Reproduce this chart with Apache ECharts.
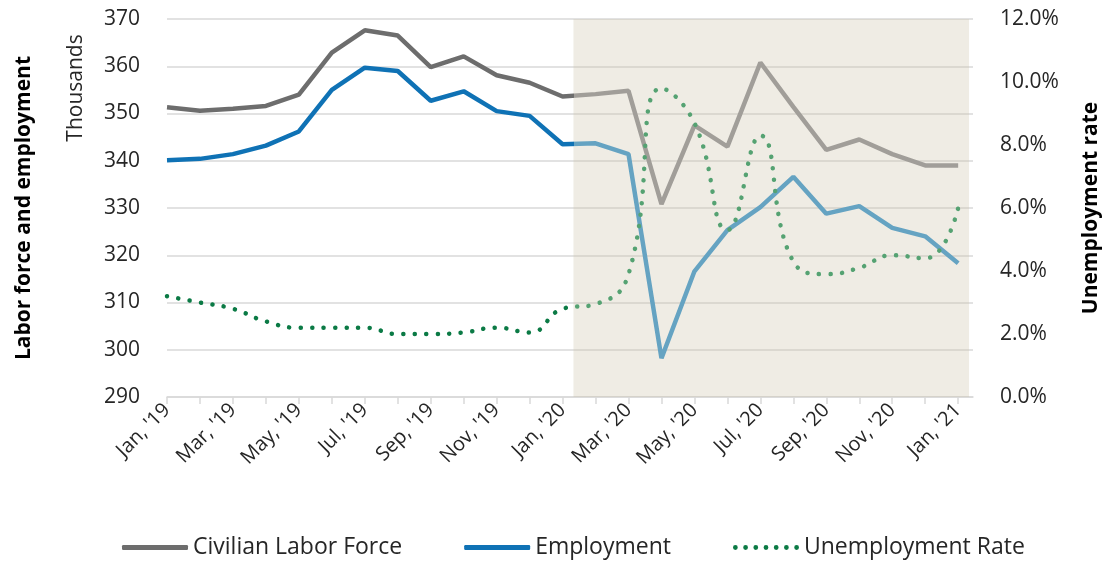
<!DOCTYPE html>
<html>
<head>
<meta charset="utf-8">
<script src="https://cdn.jsdelivr.net/npm/echarts@6/dist/echarts.min.js"></script>
<style>
  html, body { margin: 0; padding: 0; background: #fff; }
  #main { width: 1105px; height: 563px; }
</style>
</head>
<body>
<div id="main"></div>
<script>
// months Jan '19 .. Jan '21
var months = ["Jan, '19","Feb, '19","Mar, '19","Apr, '19","May, '19","Jun, '19","Jul, '19","Aug, '19","Sep, '19","Oct, '19","Nov, '19","Dec, '19",
              "Jan, '20","Feb, '20","Mar, '20","Apr, '20","May, '20","Jun, '20","Jul, '20","Aug, '20","Sep, '20","Oct, '20","Nov, '20","Dec, '20","Jan, '21"];
var laborForce = [351.3,350.6,351.0,351.6,354.0,362.9,367.6,366.5,359.8,362.1,358.1,356.5,
                  353.6,354.1,354.8,330.8,347.5,343.0,360.8,351.4,342.3,344.5,341.4,339.0,339.0];
var employment = [340.1,340.4,341.4,343.2,346.2,355.0,359.7,359.0,352.7,354.7,350.5,349.5,
                  343.5,343.7,341.4,298.2,316.6,325.3,330.2,336.6,328.8,330.4,325.8,324.0,318.3];
var unempRate = [3.2,3.0,2.8,2.4,2.2,2.2,2.2,2.0,2.0,2.05,2.2,2.05,
                 2.8,2.95,3.9,9.8,8.7,5.3,8.3,4.3,3.9,4.1,4.5,4.4,6.0];
var leftTicks = [290,300,310,320,330,340,350,360,370];
var rightTicks = [0,2,4,6,8,10,12];

// shaded period starts part way into Jan '20
var shadeStart = 12.33, shadeEnd = 24.33;

var myChart = echarts.init(document.getElementById('main'));

function pts(arr){
  var out = [];
  for (var i = 0; i < arr.length; i++) out.push([i, arr[i]]);
  return out;
}
// colour switch where the shading starts (line bbox runs from month 0 to month 24)
function split(dark, light){
  var f = shadeStart / (months.length - 1);
  return new echarts.graphic.LinearGradient(0, 0, 1, 0, [
    { offset: 0, color: dark }, { offset: f, color: dark },
    { offset: f, color: light }, { offset: 1, color: light }
  ]);
}
var tickIdx = [], labelIdx = [];
for (var i = 0; i < months.length; i++){
  tickIdx.push(i);
  if (i % 2 === 0) labelIdx.push(i);
}

var font = '"Open Sans", Lato, sans-serif';
var gridColor = '#d9d9d9';
var txt = '#262626';

// dotted legend icon
var dots = 'path://';
for (var k = 0; k < 7; k++){
  var cx = 2.5 + k * 10.7;
  dots += 'M' + (cx - 2.5) + ' 2.5a2.5 2.5 0 1 0 5 0a2.5 2.5 0 1 0 -5 0Z';
}

var opt = {
  animation: false,
  textStyle: { fontFamily: font },
  grid: { left: 167, right: 132, top: 19, bottom: 166, outerBoundsMode: 'none' },
  legend: {
    top: 531,
    left: 117,
    itemWidth: 66,
    itemHeight: 5,
    itemGap: 62,
    textStyle: { fontSize: 23, color: txt, fontFamily: font },
    data: [
      { name: 'Civilian Labor Force', icon: 'roundRect', itemStyle: { color: '#6d6d6d' } },
      { name: 'Employment', icon: 'roundRect', itemStyle: { color: '#0f72b5' } },
      { name: 'Unemployment Rate', icon: dots, itemStyle: { color: '#0b7a45' } }
    ]
  },
  xAxis: {
    type: 'value',
    min: 0,
    max: 24.45,
    interval: 1,
    splitLine: { show: false },
    axisLine: { show: true, onZero: false, lineStyle: { color: gridColor, width: 1.5 } },
    axisTick: { show: true, length: 7, customValues: tickIdx,
                lineStyle: { color: gridColor, width: 1.5 } },
    axisLabel: {
      customValues: labelIdx,
      rotate: 45,
      margin: 10,
      fontSize: 20,
      color: txt,
      formatter: function(v){ return months[Math.round(v)] || ''; }
    }
  },
  yAxis: [{
    type: 'value',
    min: leftTicks[0],
    max: leftTicks[leftTicks.length - 1],
    interval: 10,
    name: 'Labor force and employment',
    nameLocation: 'middle',
    nameRotate: 90,
    nameGap: 132,
    nameTextStyle: { fontSize: 21, fontWeight: 'bold', color: '#000' },
    axisLine: { show: false },
    axisTick: { show: false },
    axisLabel: { fontSize: 21, color: txt, margin: 27 },
    splitLine: { lineStyle: { color: gridColor, width: 1.5 } }
  }, {
    type: 'value',
    min: rightTicks[0],
    max: rightTicks[rightTicks.length - 1],
    interval: 2,
    name: 'Unemployment rate',
    nameLocation: 'middle',
    nameRotate: 90,
    nameGap: 108,
    nameTextStyle: { fontSize: 21, fontWeight: 'bold', color: '#000' },
    axisLine: { show: false },
    axisTick: { show: false },
    axisLabel: { fontSize: 21, color: txt, margin: 27,
                 formatter: function(v){ return v.toFixed(1) + '%'; } },
    splitLine: { show: false }
  }],
  graphic: [{
    type: 'text',
    x: 76,
    y: 88,
    rotation: Math.PI / 2,
    style: { text: 'Thousands', fontSize: 21, fill: txt, fontFamily: font,
             align: 'center', verticalAlign: 'middle' }
  }],
  series: [{
    name: 'Civilian Labor Force',
    type: 'line',
    yAxisIndex: 0,
    symbol: 'none',
    z: 3,
    data: pts(laborForce),
    itemStyle: { color: '#6d6d6d' },
    lineStyle: { color: split('#6d6d6d', '#a19e99'), width: 4.5 },
    markArea: {
      silent: true,
      z: 1,
      itemStyle: { color: 'rgba(202,192,165,0.3)' },
      data: [[{ xAxis: shadeStart }, { xAxis: shadeEnd }]]
    }
  }, {
    name: 'Employment',
    type: 'line',
    yAxisIndex: 0,
    symbol: 'none',
    z: 3,
    data: pts(employment),
    itemStyle: { color: '#0f72b5' },
    lineStyle: { color: split('#0f72b5', '#65a3c2'), width: 4.5 }
  }, {
    name: 'Unemployment Rate',
    type: 'line',
    yAxisIndex: 1,
    symbol: 'none',
    smooth: 0.5,
    z: 3,
    data: pts(unempRate),
    itemStyle: { color: '#0b7a45' },
    lineStyle: { color: split('#0b7a45', '#55a272'), width: 4.5, type: [0.1, 11.4], cap: 'round' }
  }]
};

myChart.setOption(opt);
</script>
</body>
</html>
